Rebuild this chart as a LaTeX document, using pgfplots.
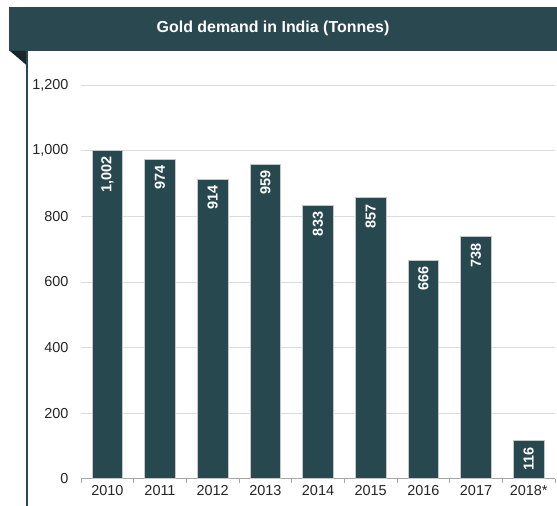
\documentclass[border=0pt]{standalone}
\usepackage{pgfplots}
\pgfplotsset{compat=1.18}
\usepackage{fontspec}
\setmainfont{Liberation Sans}
\definecolor{band}{HTML}{2A4850}
\definecolor{barc}{HTML}{284850}
\definecolor{tri}{HTML}{17272B}
\definecolor{gridc}{HTML}{DCDCDC}
\definecolor{tickc}{HTML}{262626}
\begin{document}
\begin{tikzpicture}[x=1bp,y=1bp]
\path[use as bounding box] (0,0) rectangle (557,506);
\fill[band] (9,455) rectangle (557,499);
\fill[tri] (10,455) -- (27.5,455) -- (27.5,440) -- cycle;
\draw[band, line width=1.6bp] (27,455) -- (27,0);
\node[text=white, font=\fontsize{16}{18}\selectfont\bfseries] at (273,478) {Gold demand in India (Tonnes)};
\begin{axis}[
  at={(81bp,27.3bp)}, anchor=south west,
  scale only axis, width=474bp, height=393.4bp,
  xmin=-0.5, xmax=8.5, ymin=0, ymax=1200,
  axis x line*=bottom, axis y line*=left,
  x axis line style={draw=gray!70, line width=0.8bp, -},
  y axis line style={draw=none},
  ytick={0,200,400,600,800,1000,1200},
  ymajorgrids, grid style={gridc, line width=0.8bp},
  xtick={0,...,8},
  xticklabels={2010,2011,2012,2013,2014,2015,2016,2017,2018*},
  minor xtick={-0.5,0.5,...,8.5},
  major tick length=0pt,
  minor tick length=4bp,
  tick align=outside,
  minor tick style={draw=gray!70, line width=0.8bp},
  every tick label/.append style={font=\fontsize{14.5}{16}\selectfont, text=tickc},
  yticklabel style={xshift=-9bp},
  xticklabel style={yshift=-3bp},
  /pgf/number format/assume math mode=true,
  /pgf/number format/1000 sep={,},
  ybar, bar width=30.6bp,
  clip=false,
  nodes near coords,
  nodes near coords style={/pgf/number format/1000 sep={,}},
  every node near coord/.append style={rotate=90, anchor=east, text=white,
     font=\fontsize{14.5}{16}\selectfont\bfseries, inner sep=6bp},
]
\addplot[fill=barc, draw=gray!45, line width=0.6bp] coordinates {
 (0,1002) (1,974) (2,914) (3,959) (4,833) (5,857) (6,666) (7,738) (8,116)};
\end{axis}
\end{tikzpicture}
\end{document}
